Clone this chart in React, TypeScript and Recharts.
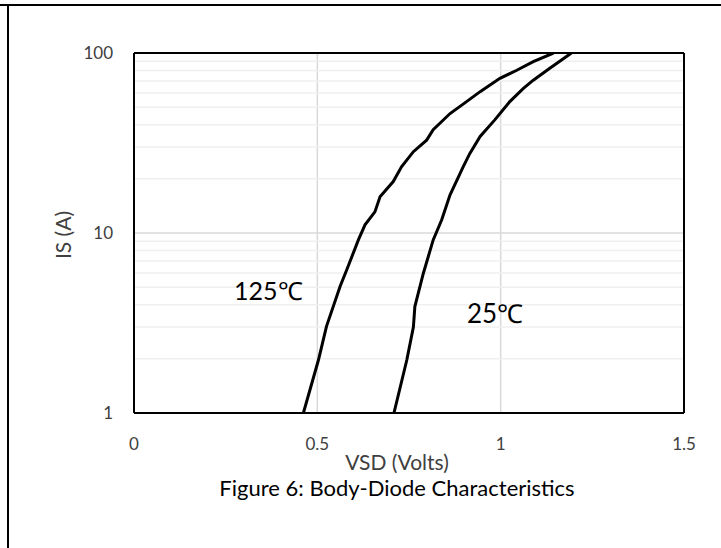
import { LineChart, Line, XAxis, YAxis, CartesianGrid, ReferenceLine } from "recharts";

// 125°C curve (VSD in volts, IS in amps)
const v125 = [0.462, 0.503, 0.525, 0.562, 0.58, 0.612, 0.63, 0.657, 0.671, 0.707, 0.73, 0.762, 0.798, 0.816, 0.862, 0.907, 0.944, 0.998, 1.044, 1.089, 1.144];
const i125 = [1, 1.97, 3.03, 5.05, 6.23, 9.15, 11.1, 13.1, 15.9, 19.3, 23.4, 28.3, 32.8, 37.5, 46.1, 53.7, 61, 72.3, 80.2, 89.5, 100];

// 25°C curve
const v25 = [0.709, 0.744, 0.762, 0.766, 0.789, 0.816, 0.839, 0.862, 0.898, 0.916, 0.944, 0.984, 1.025, 1.062, 1.089, 1.134, 1.166, 1.193];
const i25 = [1, 1.97, 3.0, 3.9, 5.96, 9.15, 11.8, 16.3, 23.4, 27.7, 34.4, 42.5, 53.7, 63.6, 70.6, 82.3, 91.4, 100];

const xTicks = [0, 0.5, 1, 1.5];
const yTicks = [1, 10, 100];
const minorY = [2, 3, 4, 5, 6, 7, 8, 9, 20, 30, 40, 50, 60, 70, 80, 90];

const hot = v125.map((v, i) => ({ v, is: i125[i] }));
const cold = v25.map((v, i) => ({ v, is: i25[i] }));

const font = "Lato, 'Open Sans', sans-serif";

export default function App() {
  return (
    <div style={{ position: "absolute", left: 0, top: 0, width: 721, height: 548, background: "#fff", fontFamily: font }}>
      <div style={{ position: "absolute", left: 0, top: 4, width: 721, height: 0, borderTop: "2px solid #000" }} />
      <div style={{ position: "absolute", left: 7, top: 4, width: 0, height: 544, borderLeft: "2px solid #000" }} />

      <LineChart
        width={721}
        height={548}
        margin={{ top: 53, right: 37, left: 74, bottom: 105 }}
        style={{ position: "absolute", left: 0, top: 0 }}
      >
        <CartesianGrid stroke="#d9d9d9" strokeWidth={1.5} />
        {minorY.map((y) => (
          <ReferenceLine key={y} y={y} stroke="#efefef" strokeWidth={1.5} />
        ))}
        <XAxis
          type="number"
          dataKey="v"
          domain={[0, 1.5]}
          ticks={xTicks}
          allowDataOverflow
          axisLine={{ stroke: "#000", strokeWidth: 2 }}
          tickLine={false}
          tickMargin={19}
          height={30}
          tick={{ fill: "#404040", fontSize: 17, fontFamily: font }}
        />
        <YAxis
          type="number"
          scale="log"
          domain={[1, 100]}
          ticks={yTicks}
          allowDataOverflow
          axisLine={{ stroke: "#000", strokeWidth: 2 }}
          tickLine={false}
          tickMargin={15}
          width={60}
          tick={{ fill: "#404040", fontSize: 17, fontFamily: font }}
        />
        <ReferenceLine y={100} stroke="#000" strokeWidth={2} />
        <ReferenceLine x={1.5} stroke="#000" strokeWidth={2} />
        <Line data={hot} dataKey="is" type="linear" stroke="#000" strokeWidth={3} dot={false} isAnimationActive={false} />
        <Line data={cold} dataKey="is" type="linear" stroke="#000" strokeWidth={3} dot={false} isAnimationActive={false} />
      </LineChart>

      <div style={{ position: "absolute", left: 234, top: 273, fontSize: 25, color: "#000", whiteSpace: "nowrap" }}>125℃</div>
      <div style={{ position: "absolute", left: 467, top: 295, fontSize: 26, color: "#000", whiteSpace: "nowrap" }}>25℃</div>

      <div
        style={{
          position: "absolute",
          left: 62,
          top: 235,
          transform: "translate(-50%, -50%) rotate(-90deg)",
          fontSize: 21,
          lineHeight: "21px",
          color: "#404040",
          whiteSpace: "nowrap",
        }}
      >
        IS (A)
      </div>
      <div style={{ position: "absolute", left: 397, top: 451, transform: "translateX(-50%)", fontSize: 21, lineHeight: "21px", color: "#404040", whiteSpace: "nowrap" }}>
        VSD (Volts)
      </div>
      <div style={{ position: "absolute", left: 397, top: 477, transform: "translateX(-50%)", fontSize: 22, lineHeight: "22px", color: "#000", whiteSpace: "nowrap" }}>
        Figure 6: Body-Diode Characteristics
      </div>
    </div>
  );
}
